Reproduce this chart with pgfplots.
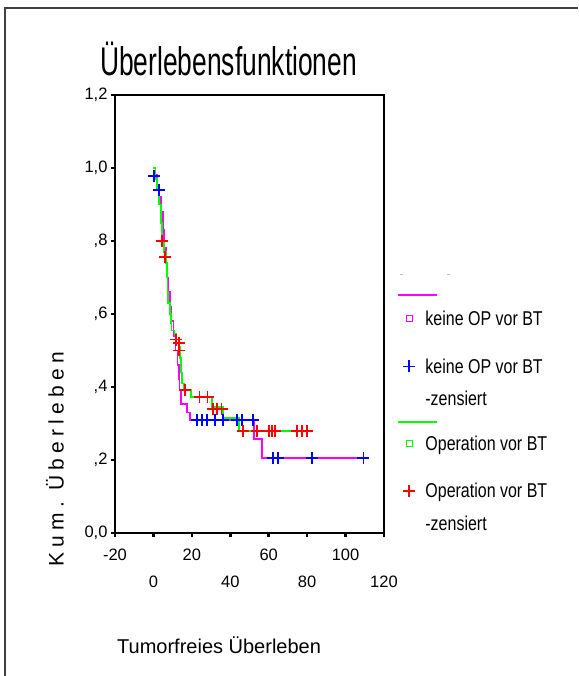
\documentclass[border=0pt]{standalone}
\usepackage{fontspec}
\setmainfont{Liberation Sans}
\newfontfamily\narrowfont[FakeStretch=0.66]{Liberation Sans}
\newfontfamily\legfont[FakeStretch=0.8]{Liberation Sans}
\newfontfamily\widefont[LetterSpace=25]{Liberation Sans}
\usepackage{pgfplots}
\pgfplotsset{compat=1.18}
\definecolor{kmag}{RGB}{255,0,255}
\definecolor{kblue}{RGB}{0,0,255}
\definecolor{kgreen}{RGB}{0,255,0}
\definecolor{kred}{RGB}{255,0,0}

\begin{document}
\begin{tikzpicture}[x=1pt,y=1pt]
\path[use as bounding box] (0,0) rectangle (578,676);
\draw[line width=2pt, black!75] (5,0) -- (5,668) -- (578,668);
\node[anchor=base west, inner sep=0pt, font=\narrowfont\fontsize{40}{40}\selectfont] at (100,600) {Überlebensfunktionen};
\node[rotate=90, inner sep=0pt, font=\widefont\fontsize{21}{21}\selectfont] at (55,217) {Kum.~Überleben};
\node[anchor=base west, inner sep=0pt, font=\fontsize{20}{20}\selectfont] at (117,22) {Tumorfreies Überleben};
\draw[gray!50, line width=1pt] (400,401) -- (403,401) (447,401) -- (450,401);

\begin{axis}[
    at={(115pt,143pt)}, anchor=south west,
    width=269pt, height=438pt, scale only axis,
    xmin=-20, xmax=120, ymin=0, ymax=1.2,
    axis line style={line width=1.5pt},
    xtick={-20,0,20,40,60,80,100,120},
    xticklabels={-20,{\strut\\[8pt]0},20,{\strut\\[8pt]40},60,{\strut\\[8pt]80},100,{\strut\\[8pt]120}},
    xticklabel style={align=center, yshift=-8pt, font=\fontsize{16.5}{18}\selectfont},
    ytick={0,0.2,0.4,0.6,0.8,1.0,1.2},
    yticklabels={{0,0},{,2},{,4},{,6},{,8},{1,0},{1,2}},
    yticklabel style={font=\fontsize{16.5}{18}\selectfont},
    xtick pos=bottom, ytick pos=left,
    tick align=outside,
    major tick length=4pt,
    tick style={line width=2.5pt, black},
    legend style={at={(1,1)}, anchor=north west, xshift=14pt, yshift=-197pt,
        draw=none, fill=none, inner sep=0pt, outer sep=0pt,
        row sep=0pt, column sep=0pt,
        nodes={inner sep=0pt, text depth=0pt, font=\legfont\fontsize{20}{24}\selectfont},
        cells={anchor=base west}},
    const plot,
]

% keine OP vor BT
\addplot[forget plot, kmag, line width=1.6pt, no marks] coordinates {
 (0,1.0) (1,0.98) (2,0.95) (3,0.92) (4,0.88) (5,0.83) (5.5,0.78) (6.5,0.74)
 (7,0.70) (7.5,0.66) (8.5,0.62) (9.5,0.58) (10.5,0.54) (11.5,0.50) (12.5,0.46)
 (13.2,0.42) (13.6,0.39) (14.2,0.353) (17.5,0.33) (19,0.31) (52.4,0.257)
 (56.6,0.205) (111.7,0.205)
};
% Operation vor BT
\addplot[forget plot, kgreen, line width=1.6pt, no marks] coordinates {
 (0,1.0) (1,0.97) (2,0.94) (3,0.90) (4,0.85) (4.5,0.80) (5.5,0.77) (6.5,0.74)
 (7,0.70) (7.3,0.66) (7.6,0.63) (8.5,0.60) (9,0.575) (9.5,0.555) (11,0.545)
 (12,0.53) (13,0.51) (13.8,0.48) (14.5,0.44) (15,0.41) (15.8,0.392)
 (19.6,0.373) (30.5,0.345) (36.2,0.315) (44.6,0.28) (82,0.28)
};
% censored, keine OP
\addplot[forget plot, only marks, kblue, mark=+, mark size=6pt, line width=1.5pt] coordinates {
 (0.3,0.978) (2.9,0.94) (22.7,0.31) (25.3,0.31) (27.9,0.31) (32,0.31) (36.2,0.31)
 (43.5,0.31) (46.1,0.31) (51.9,0.31) (62.3,0.205) (64.9,0.205) (82.6,0.205) (109.2,0.205)
};
% censored, Operation
\addplot[forget plot, only marks, kred, mark=+, mark size=6pt, line width=1.5pt] coordinates {
 (4.5,0.80) (6,0.756) (11.8,0.53) (13.4,0.52) (13.4,0.50) (16.5,0.392)
 (24,0.373) (28.2,0.373) (31,0.34) (33,0.34) (35.5,0.34)
 (46.7,0.28) (54,0.28) (60.2,0.28) (61.8,0.28) (63.3,0.28) (74.8,0.28) (77.4,0.28) (80,0.28)
};

\addlegendimage{legend image code/.code={\path (0pt,0pt) (27pt,0pt); \draw[overlay, draw=kmag, line width=2pt] (0pt,7pt) -- (39pt,7pt);}}
\addlegendentry{\rule{0pt}{10pt}}
\addlegendimage{legend image code/.code={\path (0pt,0pt) (27pt,0pt); \draw[kmag, line width=1.2pt] (8pt,4pt) rectangle (14pt,10pt);}}
\addlegendentry{\rule{0pt}{23pt}keine OP vor BT}
\addlegendimage{legend image code/.code={\path (0pt,0pt) (27pt,0pt); \draw[kblue, line width=1.5pt] (5pt,7pt) -- (17pt,7pt) (11pt,1pt) -- (11pt,13pt);}}
\addlegendentry{\rule{0pt}{48pt}keine OP vor BT}
\addlegendimage{empty legend}
\addlegendentry{\rule{0pt}{32pt}-zensiert}
\addlegendimage{legend image code/.code={\path (0pt,0pt) (27pt,0pt); \draw[overlay, draw=kgreen, line width=2pt] (0pt,7pt) -- (39pt,7pt);}}
\addlegendentry{\rule{0pt}{23pt}}
\addlegendimage{legend image code/.code={\path (0pt,0pt) (27pt,0pt); \draw[kgreen, line width=1.2pt] (8pt,4pt) rectangle (14pt,10pt);}}
\addlegendentry{\rule{0pt}{22pt}Operation vor BT}
\addlegendimage{legend image code/.code={\path (0pt,0pt) (27pt,0pt); \draw[kred, line width=1.5pt] (5pt,7pt) -- (17pt,7pt) (11pt,1pt) -- (11pt,13pt);}}
\addlegendentry{\rule{0pt}{47pt}Operation vor BT}
\addlegendimage{empty legend}
\addlegendentry{\rule{0pt}{32pt}-zensiert}
\end{axis}
\end{tikzpicture}
\end{document}
